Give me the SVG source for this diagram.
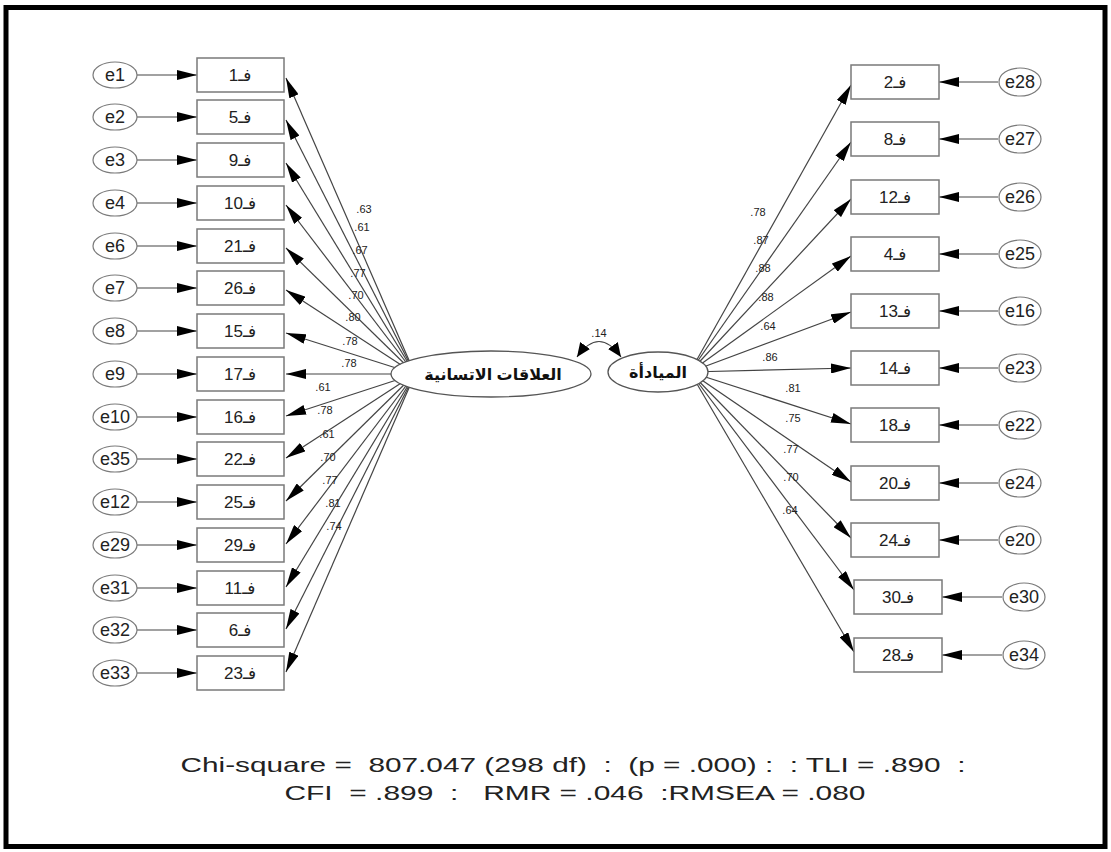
<svg xmlns="http://www.w3.org/2000/svg" width="1111" height="852" viewBox="0 0 1111 852">
<defs>
<marker id="ah" markerUnits="userSpaceOnUse" markerWidth="20" markerHeight="10" refX="20" refY="5" orient="auto">
<path d="M0,0 L20,5 L0,10 z" fill="#000"/>
</marker>
<marker id="ah2" markerUnits="userSpaceOnUse" markerWidth="14" markerHeight="12" refX="14" refY="6" orient="auto-start-reverse">
<path d="M0,0 L14,6 L0,12 z" fill="#000"/>
</marker>
<style>
.box{fill:#fff;stroke:#7a7a7a;stroke-width:1.5}
.err{fill:#fff;stroke:#7a7a7a;stroke-width:1.2}
.lat{fill:#fff;stroke:#555;stroke-width:1.3}
.ln{stroke:#444;stroke-width:1.2;fill:none;marker-end:url(#ah)}
.t{font-family:"Liberation Sans","DejaVu Sans",sans-serif;font-size:17px;fill:#222;text-anchor:middle}
.e{font-family:"Liberation Sans","DejaVu Sans",sans-serif;font-size:18px;fill:#222;text-anchor:middle}
.ld{font-family:"Liberation Sans","DejaVu Sans",sans-serif;font-size:11px;fill:#222;text-anchor:middle}
.lt{font-family:"Liberation Sans","DejaVu Sans",sans-serif;font-size:16px;font-weight:bold;fill:#111;text-anchor:middle}
.ft{font-family:"Liberation Sans","DejaVu Sans",sans-serif;font-size:21px;fill:#222;text-anchor:middle;white-space:pre}
</style>
</defs>
<rect x="0" y="0" width="1111" height="852" fill="#fff"/>
<rect x="6" y="7.5" width="1099" height="839" fill="none" stroke="#000" stroke-width="5"/>

<g id="connectors">
<line class="ln" x1="137" y1="75" x2="197" y2="75"/>
<line class="ln" x1="137" y1="117" x2="197" y2="117"/>
<line class="ln" x1="137" y1="160" x2="197" y2="160"/>
<line class="ln" x1="137" y1="203" x2="197" y2="203"/>
<line class="ln" x1="137" y1="246" x2="197" y2="246"/>
<line class="ln" x1="137" y1="288" x2="197" y2="288"/>
<line class="ln" x1="137" y1="331" x2="197" y2="331"/>
<line class="ln" x1="137" y1="374" x2="197" y2="374"/>
<line class="ln" x1="137" y1="417" x2="197" y2="417"/>
<line class="ln" x1="137" y1="459" x2="197" y2="459"/>
<line class="ln" x1="137" y1="502" x2="197" y2="502"/>
<line class="ln" x1="137" y1="545" x2="197" y2="545"/>
<line class="ln" x1="137" y1="588" x2="197" y2="588"/>
<line class="ln" x1="137" y1="630" x2="197" y2="630"/>
<line class="ln" x1="137" y1="673" x2="197" y2="673"/>
<line class="ln" x1="415" y1="374" x2="286" y2="78"/>
<line class="ln" x1="415" y1="374" x2="286" y2="120"/>
<line class="ln" x1="415" y1="374" x2="286" y2="163"/>
<line class="ln" x1="415" y1="374" x2="286" y2="205"/>
<line class="ln" x1="415" y1="374" x2="286" y2="248"/>
<line class="ln" x1="415" y1="374" x2="286" y2="290"/>
<line class="ln" x1="415" y1="374" x2="286" y2="333"/>
<line class="ln" x1="415" y1="374" x2="286" y2="374"/>
<line class="ln" x1="415" y1="374" x2="286" y2="416"/>
<line class="ln" x1="415" y1="374" x2="286" y2="458"/>
<line class="ln" x1="415" y1="374" x2="286" y2="501"/>
<line class="ln" x1="415" y1="374" x2="286" y2="544"/>
<line class="ln" x1="415" y1="374" x2="286" y2="587"/>
<line class="ln" x1="415" y1="374" x2="286" y2="629"/>
<line class="ln" x1="415" y1="374" x2="286" y2="672"/>
<line class="ln" x1="690" y1="372" x2="851" y2="85"/>
<line class="ln" x1="690" y1="372" x2="851" y2="142"/>
<line class="ln" x1="690" y1="372" x2="851" y2="199"/>
<line class="ln" x1="690" y1="372" x2="851" y2="256"/>
<line class="ln" x1="690" y1="372" x2="851" y2="312"/>
<line class="ln" x1="690" y1="372" x2="851" y2="368"/>
<line class="ln" x1="690" y1="372" x2="851" y2="424"/>
<line class="ln" x1="690" y1="372" x2="851" y2="482"/>
<line class="ln" x1="690" y1="372" x2="851" y2="538"/>
<line class="ln" x1="690" y1="372" x2="854" y2="590"/>
<line class="ln" x1="690" y1="372" x2="854" y2="652"/>
<line class="ln" x1="998" y1="82" x2="939" y2="82"/>
<line class="ln" x1="998" y1="139" x2="939" y2="139"/>
<line class="ln" x1="998" y1="197" x2="939" y2="197"/>
<line class="ln" x1="998" y1="254" x2="939" y2="254"/>
<line class="ln" x1="998" y1="311" x2="939" y2="311"/>
<line class="ln" x1="998" y1="368" x2="939" y2="368"/>
<line class="ln" x1="998" y1="425" x2="939" y2="425"/>
<line class="ln" x1="998" y1="483" x2="939" y2="483"/>
<line class="ln" x1="998" y1="540" x2="939" y2="540"/>
<line class="ln" x1="1002" y1="597" x2="942" y2="597"/>
<line class="ln" x1="1002" y1="655" x2="942" y2="655"/>
<path d="M577,357 Q599,326 621,357" stroke="#444" stroke-width="1.2" fill="none" marker-start="url(#ah2)" marker-end="url(#ah2)"/>
</g>

<g id="labels-left">
<text class="ld" x="364" y="213">.63</text>
<text class="ld" x="362" y="231">.61</text>
<text class="ld" x="360" y="254">.67</text>
<text class="ld" x="358" y="277">.77</text>
<text class="ld" x="356" y="299">.70</text>
<text class="ld" x="353" y="321">.80</text>
<text class="ld" x="350" y="345">.78</text>
<text class="ld" x="349" y="367">.78</text>
<text class="ld" x="323" y="391">.61</text>
<text class="ld" x="325" y="414">.78</text>
<text class="ld" x="327" y="438">.61</text>
<text class="ld" x="328" y="461">.70</text>
<text class="ld" x="330" y="484">.77</text>
<text class="ld" x="333" y="507">.81</text>
<text class="ld" x="334" y="530">.74</text>
</g>
<g id="labels-right">
<text class="ld" x="758" y="216">.78</text>
<text class="ld" x="761" y="244">.87</text>
<text class="ld" x="763" y="272">.88</text>
<text class="ld" x="766" y="301">.88</text>
<text class="ld" x="768" y="330">.64</text>
<text class="ld" x="770" y="361">.86</text>
<text class="ld" x="793" y="392">.81</text>
<text class="ld" x="793" y="422">.75</text>
<text class="ld" x="791" y="453">.77</text>
<text class="ld" x="791" y="481">.70</text>
<text class="ld" x="790" y="514">.64</text>
<text class="ld" x="599" y="337">.14</text>
</g>

<g id="latent-F1"><ellipse class="lat" cx="491" cy="374" rx="100" ry="23"/><text class="lt" x="493" y="380">العلاقات الاتسانية</text></g>
<g id="latent-F2"><ellipse class="lat" cx="658" cy="372" rx="50" ry="20"/><text class="lt" x="658" y="378">الميادأة</text></g>

<g id="left-e1"><ellipse class="err" cx="115" cy="75" rx="22" ry="13"/><text class="e" x="115" y="81">e1</text><rect class="box" x="197" y="58" width="87" height="34"/><text class="t" x="240" y="81">فـ1</text></g>
<g id="left-e2"><ellipse class="err" cx="115" cy="117" rx="22" ry="13"/><text class="e" x="115" y="123">e2</text><rect class="box" x="197" y="100" width="87" height="34"/><text class="t" x="240" y="123">فـ5</text></g>
<g id="left-e3"><ellipse class="err" cx="115" cy="160" rx="22" ry="13"/><text class="e" x="115" y="166">e3</text><rect class="box" x="197" y="143" width="87" height="34"/><text class="t" x="240" y="166">فـ9</text></g>
<g id="left-e4"><ellipse class="err" cx="115" cy="203" rx="22" ry="13"/><text class="e" x="115" y="209">e4</text><rect class="box" x="197" y="186" width="87" height="34"/><text class="t" x="240" y="209">فـ10</text></g>
<g id="left-e6"><ellipse class="err" cx="115" cy="246" rx="22" ry="13"/><text class="e" x="115" y="252">e6</text><rect class="box" x="197" y="229" width="87" height="34"/><text class="t" x="240" y="252">فـ21</text></g>
<g id="left-e7"><ellipse class="err" cx="115" cy="288" rx="22" ry="13"/><text class="e" x="115" y="294">e7</text><rect class="box" x="197" y="271" width="87" height="34"/><text class="t" x="240" y="294">فـ26</text></g>
<g id="left-e8"><ellipse class="err" cx="115" cy="331" rx="22" ry="13"/><text class="e" x="115" y="337">e8</text><rect class="box" x="197" y="314" width="87" height="34"/><text class="t" x="240" y="337">فـ15</text></g>
<g id="left-e9"><ellipse class="err" cx="115" cy="374" rx="22" ry="13"/><text class="e" x="115" y="380">e9</text><rect class="box" x="197" y="357" width="87" height="34"/><text class="t" x="240" y="380">فـ17</text></g>
<g id="left-e10"><ellipse class="err" cx="115" cy="417" rx="22" ry="13"/><text class="e" x="115" y="423">e10</text><rect class="box" x="197" y="400" width="87" height="34"/><text class="t" x="240" y="423">فـ16</text></g>
<g id="left-e35"><ellipse class="err" cx="115" cy="459" rx="22" ry="13"/><text class="e" x="115" y="465">e35</text><rect class="box" x="197" y="442" width="87" height="34"/><text class="t" x="240" y="465">فـ22</text></g>
<g id="left-e12"><ellipse class="err" cx="115" cy="502" rx="22" ry="13"/><text class="e" x="115" y="508">e12</text><rect class="box" x="197" y="485" width="87" height="34"/><text class="t" x="240" y="508">فـ25</text></g>
<g id="left-e29"><ellipse class="err" cx="115" cy="545" rx="22" ry="13"/><text class="e" x="115" y="551">e29</text><rect class="box" x="197" y="528" width="87" height="34"/><text class="t" x="240" y="551">فـ29</text></g>
<g id="left-e31"><ellipse class="err" cx="115" cy="588" rx="22" ry="13"/><text class="e" x="115" y="594">e31</text><rect class="box" x="197" y="571" width="87" height="34"/><text class="t" x="240" y="594">فـ11</text></g>
<g id="left-e32"><ellipse class="err" cx="115" cy="630" rx="22" ry="13"/><text class="e" x="115" y="636">e32</text><rect class="box" x="197" y="613" width="87" height="34"/><text class="t" x="240" y="636">فـ6</text></g>
<g id="left-e33"><ellipse class="err" cx="115" cy="673" rx="22" ry="13"/><text class="e" x="115" y="679">e33</text><rect class="box" x="197" y="656" width="87" height="34"/><text class="t" x="240" y="679">فـ23</text></g>

<g id="right-e28"><ellipse class="err" cx="1020" cy="82" rx="21" ry="14"/><text class="e" x="1020" y="88">e28</text><rect class="box" x="851" y="65" width="88" height="34"/><text class="t" x="895" y="88">فـ2</text></g>
<g id="right-e27"><ellipse class="err" cx="1020" cy="139" rx="21" ry="14"/><text class="e" x="1020" y="145">e27</text><rect class="box" x="851" y="122" width="88" height="34"/><text class="t" x="895" y="145">فـ8</text></g>
<g id="right-e26"><ellipse class="err" cx="1020" cy="197" rx="21" ry="14"/><text class="e" x="1020" y="203">e26</text><rect class="box" x="851" y="180" width="88" height="34"/><text class="t" x="895" y="203">فـ12</text></g>
<g id="right-e25"><ellipse class="err" cx="1020" cy="254" rx="21" ry="14"/><text class="e" x="1020" y="260">e25</text><rect class="box" x="851" y="237" width="88" height="34"/><text class="t" x="895" y="260">فـ4</text></g>
<g id="right-e16"><ellipse class="err" cx="1020" cy="311" rx="21" ry="14"/><text class="e" x="1020" y="317">e16</text><rect class="box" x="851" y="294" width="88" height="34"/><text class="t" x="895" y="317">فـ13</text></g>
<g id="right-e23"><ellipse class="err" cx="1020" cy="368" rx="21" ry="14"/><text class="e" x="1020" y="374">e23</text><rect class="box" x="851" y="351" width="88" height="34"/><text class="t" x="895" y="374">فـ14</text></g>
<g id="right-e22"><ellipse class="err" cx="1020" cy="425" rx="21" ry="14"/><text class="e" x="1020" y="431">e22</text><rect class="box" x="851" y="408" width="88" height="34"/><text class="t" x="895" y="431">فـ18</text></g>
<g id="right-e24"><ellipse class="err" cx="1020" cy="483" rx="21" ry="14"/><text class="e" x="1020" y="489">e24</text><rect class="box" x="851" y="466" width="88" height="34"/><text class="t" x="895" y="489">فـ20</text></g>
<g id="right-e20"><ellipse class="err" cx="1020" cy="540" rx="21" ry="14"/><text class="e" x="1020" y="546">e20</text><rect class="box" x="851" y="523" width="88" height="34"/><text class="t" x="895" y="546">فـ24</text></g>
<g id="right-e30"><ellipse class="err" cx="1024" cy="597" rx="21" ry="14"/><text class="e" x="1024" y="603">e30</text><rect class="box" x="854" y="580" width="88" height="34"/><text class="t" x="898" y="603">فـ30</text></g>
<g id="right-e34"><ellipse class="err" cx="1024" cy="655" rx="21" ry="14"/><text class="e" x="1024" y="661">e34</text><rect class="box" x="854" y="638" width="88" height="34"/><text class="t" x="898" y="661">فـ28</text></g>

<g id="fit">
<text class="ft" x="573" y="772" textLength="785" lengthAdjust="spacingAndGlyphs">Chi-square =  807.047 (298 df)  :  (p = .000) :  : TLI = .890  :</text>
<text class="ft" x="575" y="800" textLength="581" lengthAdjust="spacingAndGlyphs">CFI  = .899  :   RMR = .046  :RMSEA = .080</text>
</g>
</svg>
